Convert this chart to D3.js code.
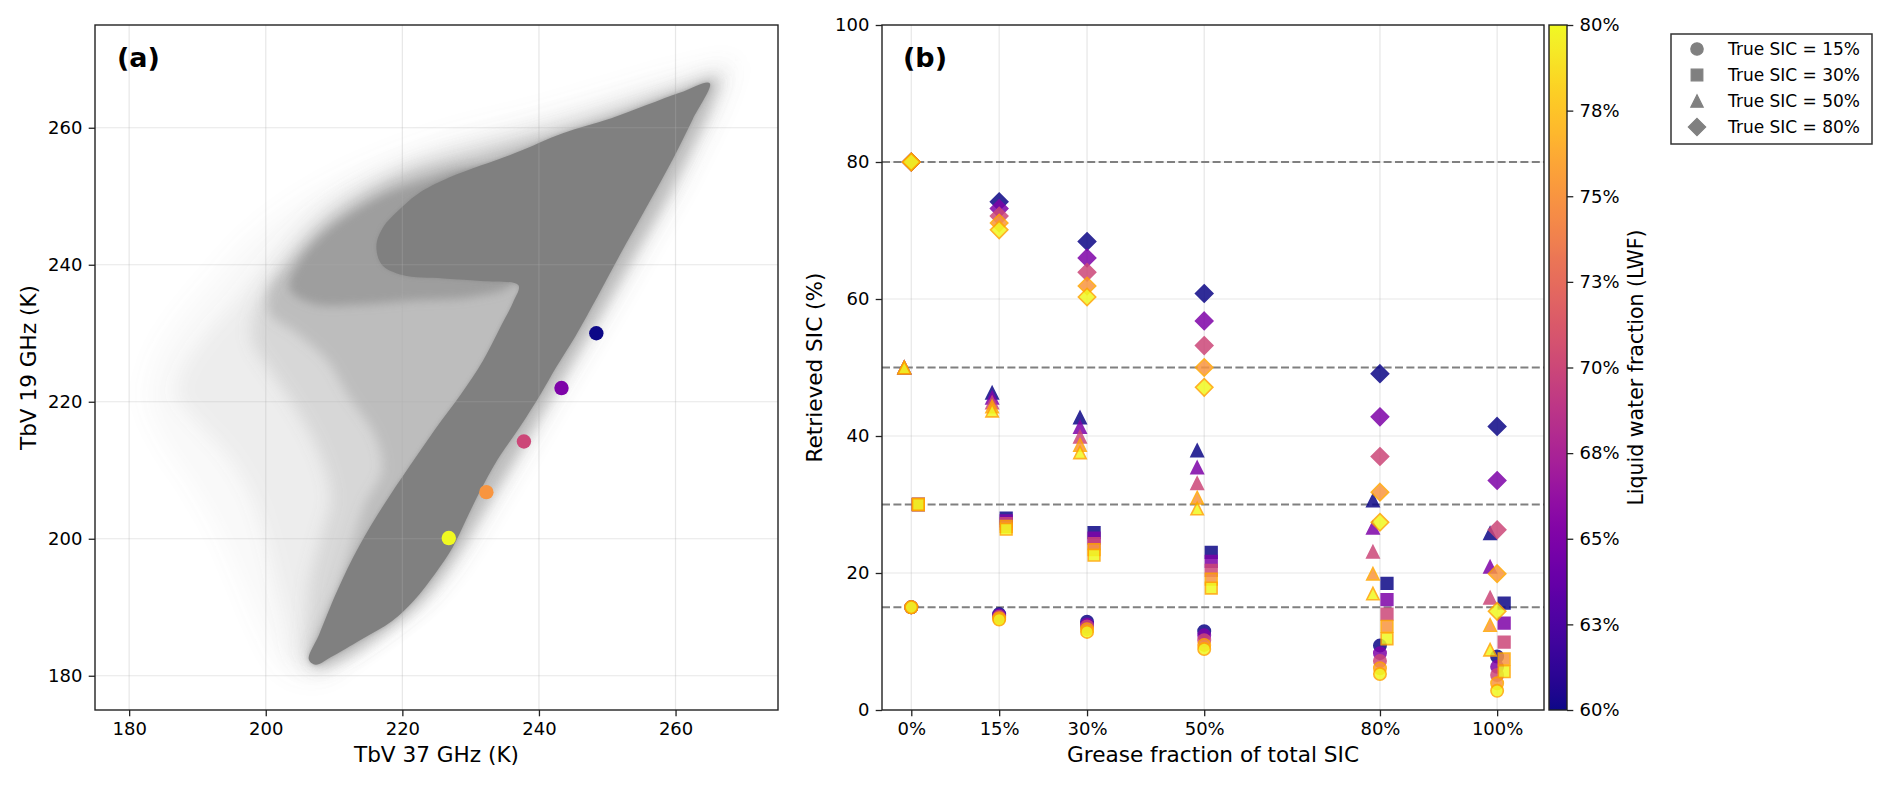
<!DOCTYPE html>
<html><head><meta charset="utf-8">
<script src="https://cdn.jsdelivr.net/npm/d3@7"></script>
<style>
body{margin:0;background:#fff}
svg{display:block}
text{font-family:"DejaVu Sans",sans-serif;fill:#000}
</style></head>
<body><svg id="c" width="1892" height="785"></svg>
<script>
// ---------------- DATA ----------------
// Panel (a): axis ticks
const aTicks = [180, 200, 220, 240, 260];
const cloudLevel0 = [[268.5,269.5],[267.5,264.5],[264.5,258],[261,251],[257,244],[253.3,237.5],[249.8,231.5],[246.5,226],[243.5,221],[240.3,215.5],[237,210],[234,205],[231.3,200.5],[228.3,196],[224.5,191.5],[219.5,187.5],[213.5,183],[208,179.5],[203,180.5],[199.5,186],[196.5,193],[193,201],[189,208],[185,214],[182.5,220],[183.5,226],[187,232],[192,238],[197.5,244],[204,249],[211,253],[219,256.5],[228,259.5],[240,262.5],[252,266],[261,268.5]];
const cloudLevel1 = [[267.5,268.5],[266.5,264],[263.5,257.5],[260,250.5],[256,243.5],[252.3,237],[248.8,231],[245.5,225.5],[242.5,220.5],[239.3,215],[236,209.5],[233,204.5],[230.3,200],[227.3,195.5],[223.5,191],[218.5,187],[212.5,183],[207.5,180.3],[204.5,182],[203,188],[201.5,194],[200,200],[198,206],[194.5,212],[190,217],[187,221],[188,225],[191,229.5],[195,234],[199,239],[203,243.5],[207,247.5],[212,251],[218,254],[226,257],[237,260],[250,263.8],[259,266.5]];
const cloudLevel2 = [[266.5,267.5],[265.5,263.5],[262.5,257],[259,250],[255,243],[251.3,236.5],[247.8,230.5],[244.5,225],[241.5,220],[238.3,214.5],[235,209],[232,204],[229.3,199.5],[226.3,195],[222.5,190.5],[217.5,186.5],[212,182.8],[207.5,181],[205.8,183],[206,188],[206.5,194],[208,200],[209.5,206],[208,212],[205,218],[201,224],[198,229],[198.5,233.5],[201.5,238.5],[205,243.5],[209.5,248],[215,251.5],[221,254.5],[230,257],[241,259.8],[251,262.8],[260,265.8]];
const cloudLevel3 = [[266,267],[265,263],[262,256.5],[258.5,249.5],[254.5,242.5],[250.8,236],[247.3,230],[244,224.5],[241,219.5],[237.8,214],[234.5,208.5],[231.5,203.5],[228.8,199],[225.8,194.5],[222,190],[217,186],[211.5,182.5],[207.5,181.3],[206.5,183],[208,187.5],[210.5,193],[212.5,199],[214.5,205],[217,210],[216,215],[212,221],[209,226],[204.5,230],[200.5,233],[200.5,236.5],[203.5,240.5],[207.5,245],[212,248.5],[217,251.5],[223,253.8],[232,256],[242,259],[251,262],[260,265.3]];
const cloudLevel4 = [[203.5,236.5],[205,240.5],[208.5,244.5],[213,247.8],[218,250.5],[224,252.5],[230,254],[236,253],[238,248],[238,241],[236,237],[230,235.3],[222,234.8],[214,234.2],[207,234.3]];
const cloudCore = [[265,266.5],[262.5,261.2],[259.6,255.4],[255.8,248.5],[252,241.7],[248.6,235.4],[245.3,229.5],[242.5,225],[240.3,221.2],[237.2,216.3],[233.9,211.5],[231.2,206.6],[229.3,202.7],[227.4,198.8],[224.8,194.9],[221.7,191],[218.5,188],[214,185.3],[209.5,182.7],[207.3,181.6],[206.3,182.4],[207.8,186],[210.5,192.5],[213.6,198.8],[217.2,204.8],[221,210.5],[224.8,216],[228.5,221],[231.8,226],[234.4,231],[236.2,234.5],[237,237],[232,237.6],[226,238],[220,238.5],[217,240],[216.2,242.8],[217.2,245.5],[219.3,247.8],[222.2,250.3],[227,252.8],[236.5,256.3],[243.5,259.2],[250.6,261.4],[260.6,265.1]];
// Panel (a): simulated points per LWF
const lwfValues = [60, 65, 70, 75, 80];
const simTb37 = [248.4, 243.3, 237.8, 232.3, 226.8];
const simTb19 = [230.0, 222.0, 214.2, 206.8, 200.1];

// Panel (b)
const greaseFractions = [0, 15, 30, 50, 80, 100];
const greaseLabels = ["0%", "15%", "30%", "50%", "80%", "100%"];
const bYTicks = [0, 20, 40, 60, 80, 100];
const trueSICValues = [15, 30, 50, 80];
// retrieved SIC: rows = grease fraction, columns = LWF 60,65,70,75,80
const retrievedSIC15 = [[15,15,15,15,15],[14.0,13.8,13.6,13.4,13.2],[12.9,12.5,12.2,11.8,11.4],[11.5,10.9,10.2,9.5,8.9],[9.4,8.3,7.15,6.1,5.25],[7.8,6.3,5.1,3.9,2.8]];
const retrievedSIC30 = [[30,30,30,30,30],[28.0,27.6,27.2,26.8,26.4],[25.9,25.1,24.3,23.4,22.6],[23.0,21.7,20.4,19.1,17.8],[18.5,16.1,14.0,12.2,10.4],[15.6,12.7,9.9,7.45,5.6]];
const retrievedSIC50 = [[50,50,50,50,50],[46.3,45.6,44.9,44.3,43.7],[42.7,41.3,39.9,38.7,37.6],[37.9,35.4,33.1,31.0,29.4],[30.6,26.6,23.1,19.9,17.0],[25.8,20.9,16.4,12.4,8.8]];
const retrievedSIC80 = [[80,80,80,80,80],[74.2,73.2,72.1,71.1,70.1],[68.4,66.0,63.9,61.9,60.3],[60.8,56.8,53.2,50.0,47.1],[49.1,42.8,37.0,31.8,27.4],[41.4,33.5,26.3,19.9,14.4]];
const markerShift = [0, 1.2, -1.2, 0]; // x offset (percentage points) per true SIC series
const markerKind = ["circle", "square", "triangle", "diamond"];
const cbTicks = [60, 62.5, 65, 67.5, 70, 72.5, 75, 77.5, 80];
const cbTickLabels = ["60%", "63%", "65%", "68%", "70%", "73%", "75%", "78%", "80%"];
const legendLabels = ["True SIC = 15%", "True SIC = 30%", "True SIC = 50%", "True SIC = 80%"];

// ---------------- DRAWING ----------------
const svg = d3.select('#c');
const defs = svg.append('defs');
const gridCol = '#b0b0b0', gridOp = 0.3, spineCol = '#222', spineW = 1.4;
const tickLen = 6.3, tickPad = 6.3, tickFont = 18, labelFont = 21.6;

function blur(id, sd) {
  const f = defs.append('filter').attr('id', id).attr('x', '-30%').attr('y', '-30%').attr('width', '160%').attr('height', '160%');
  f.append('feGaussianBlur').attr('stdDeviation', sd);
}
blur('b10', 10); blur('b9', 9); blur('b8', 8); blur('b6', 6); blur('b5', 5); blur('b2', 2); blur('b07', 0.7);

const cmap = d3.scaleSequential(d3.interpolatePlasma).domain([60, 80]);

// ---- Panel (a)
const A = {l: 95, r: 778, t: 25, b: 710};
const xa = d3.scaleLinear().domain([175, 275]).range([A.l, A.r]);
const ya = d3.scaleLinear().domain([175, 275]).range([A.b, A.t]);
defs.append('clipPath').attr('id', 'clipA').append('rect').attr('x', A.l).attr('y', A.t).attr('width', A.r - A.l).attr('height', A.b - A.t);
const ga = svg.append('g');
const cloudG = ga.append('g').attr('clip-path', 'url(#clipA)');
const lineA = d3.line().x(d => xa(d[0])).y(d => ya(d[1])).curve(d3.curveCatmullRomClosed.alpha(0.5));
const layers = [
  [cloudLevel0, 0.05, 'b10'],
  [cloudLevel1, 0.1, 'b9'],
  [cloudLevel2, 0.2, 'b8'],
  [cloudLevel3, 0.3, 'b6'],
  [cloudLevel4, 0.5, 'b5'],
  [cloudCore, 0.5, 'b2'],
  [cloudCore, 1.0, 'b07']
];
layers.forEach(([pts, op, f]) => {
  cloudG.append('path').attr('d', lineA(pts)).attr('fill', '#808080').attr('fill-opacity', op).attr('filter', `url(#${f})`);
});
// grid (a)
aTicks.forEach(v => {
  ga.append('line').attr('x1', xa(v)).attr('x2', xa(v)).attr('y1', A.t).attr('y2', A.b).attr('stroke', gridCol).attr('stroke-opacity', gridOp).attr('stroke-width', 1.2);
  ga.append('line').attr('y1', ya(v)).attr('y2', ya(v)).attr('x1', A.l).attr('x2', A.r).attr('stroke', gridCol).attr('stroke-opacity', gridOp).attr('stroke-width', 1.2);
});
// simulated points
ga.selectAll('circle.sim').data(lwfValues).enter().append('circle')
  .attr('cx', (d, i) => xa(simTb37[i])).attr('cy', (d, i) => ya(simTb19[i])).attr('r', 7.2).attr('fill', d => cmap(d));
// axes (a)
function styleAxis(g) {
  g.selectAll('.domain').remove();
  g.selectAll('.tick line').attr('stroke', spineCol).attr('stroke-width', 1.3);
  g.selectAll('.tick text').attr('font-size', tickFont).attr('font-family', '"DejaVu Sans",sans-serif').attr('fill', '#000');
}
ga.append('g').attr('transform', `translate(0,${A.b})`).call(d3.axisBottom(xa).tickValues(aTicks).tickSize(tickLen).tickPadding(tickPad)).call(styleAxis);
ga.append('g').attr('transform', `translate(${A.l},0)`).call(d3.axisLeft(ya).tickValues(aTicks).tickSize(tickLen).tickPadding(tickPad)).call(styleAxis);
ga.append('rect').attr('x', A.l).attr('y', A.t).attr('width', A.r - A.l).attr('height', A.b - A.t).attr('fill', 'none').attr('stroke', spineCol).attr('stroke-width', spineW);
ga.append('text').attr('x', (A.l + A.r) / 2).attr('y', 762).attr('text-anchor', 'middle').attr('font-size', labelFont).text('TbV 37 GHz (K)');
ga.append('text').attr('transform', `translate(36,${(A.t + A.b) / 2}) rotate(-90)`).attr('text-anchor', 'middle').attr('font-size', labelFont).text('TbV 19 GHz (K)');
ga.append('text').attr('x', 117).attr('y', 67).attr('font-size', 27).attr('font-weight', 'bold').text('(a)');

// ---- Panel (b)
const B = {l: 882, r: 1544, t: 25, b: 710};
const xb = d3.scaleLinear().domain([-5, 108]).range([B.l, B.r]);
const yb = d3.scaleLinear().domain([0, 100]).range([B.b, B.t]);
const gb = svg.append('g');
greaseFractions.forEach(v => gb.append('line').attr('x1', xb(v)).attr('x2', xb(v)).attr('y1', B.t).attr('y2', B.b).attr('stroke', gridCol).attr('stroke-opacity', gridOp).attr('stroke-width', 1.2));
bYTicks.forEach(v => gb.append('line').attr('y1', yb(v)).attr('y2', yb(v)).attr('x1', B.l).attr('x2', B.r).attr('stroke', gridCol).attr('stroke-opacity', gridOp).attr('stroke-width', 1.2));
trueSICValues.forEach(v => gb.append('line').attr('y1', yb(v)).attr('y2', yb(v)).attr('x1', B.l).attr('x2', B.r).attr('stroke', '#808080').attr('stroke-width', 1.9).attr('stroke-dasharray', '8,3.4'));

function markerPath(kind, s) {
  const p = d3.path();
  if (kind === 'circle') { p.arc(0, 0, s * 0.5, 0, 2 * Math.PI); }
  else if (kind === 'square') { const h = s * 0.47; p.rect(-h, -h, 2 * h, 2 * h); }
  else if (kind === 'triangle') { const h = s * 0.5; p.moveTo(0, -h); p.lineTo(h, h); p.lineTo(-h, h); p.closePath(); }
  else { const h = s * 0.7; p.moveTo(0, -h); p.lineTo(h, 0); p.lineTo(0, h); p.lineTo(-h, 0); p.closePath(); }
  return p.toString();
}
const seriesValues = [retrievedSIC15, retrievedSIC30, retrievedSIC50, retrievedSIC80];
const pts = [];
lwfValues.forEach((lwf, li) => {
  seriesValues.forEach((ser, si) => {
    greaseFractions.forEach((gf, gi) => {
      pts.push({x: gf + markerShift[si], y: ser[gi][li], lwf: lwf, kind: markerKind[si]});
    });
  });
});
gb.selectAll('path.mk').data(pts).enter().append('path')
  .attr('d', d => markerPath(d.kind, 12.4))
  .attr('transform', d => `translate(${xb(d.x)},${yb(d.y)})`)
  .attr('fill', d => cmap(d.lwf))
  .attr('stroke', d => d.lwf >= 75 ? '#ffa500' : cmap(d.lwf))
  .attr('stroke-width', 1.6)
  .attr('stroke-linejoin', 'miter')
  .attr('opacity', 0.85);

gb.append('g').attr('transform', `translate(0,${B.b})`).call(d3.axisBottom(xb).tickValues(greaseFractions).tickFormat((d, i) => greaseLabels[i]).tickSize(tickLen).tickPadding(tickPad)).call(styleAxis);
gb.append('g').attr('transform', `translate(${B.l},0)`).call(d3.axisLeft(yb).tickValues(bYTicks).tickSize(tickLen).tickPadding(tickPad)).call(styleAxis);
gb.append('rect').attr('x', B.l).attr('y', B.t).attr('width', B.r - B.l).attr('height', B.b - B.t).attr('fill', 'none').attr('stroke', spineCol).attr('stroke-width', spineW);
gb.append('text').attr('x', (B.l + B.r) / 2).attr('y', 762).attr('text-anchor', 'middle').attr('font-size', labelFont).text('Grease fraction of total SIC');
gb.append('text').attr('transform', `translate(822,${(B.t + B.b) / 2}) rotate(-90)`).attr('text-anchor', 'middle').attr('font-size', labelFont).text('Retrieved SIC (%)');
gb.append('text').attr('x', 903).attr('y', 67).attr('font-size', 27).attr('font-weight', 'bold').text('(b)');

// ---- Colorbar
const C = {l: 1549, r: 1567, t: 25, b: 710};
const yc = d3.scaleLinear().domain([60, 80]).range([C.b, C.t]);
const grad = defs.append('linearGradient').attr('id', 'cbg').attr('x1', 0).attr('x2', 0).attr('y1', 1).attr('y2', 0);
d3.range(0, 1.0001, 0.02).forEach(t => grad.append('stop').attr('offset', t).attr('stop-color', d3.interpolatePlasma(t)));
svg.append('rect').attr('x', C.l).attr('y', C.t).attr('width', C.r - C.l).attr('height', C.b - C.t).attr('fill', 'url(#cbg)').attr('stroke', spineCol).attr('stroke-width', spineW);
svg.append('g').attr('transform', `translate(${C.r},0)`).call(d3.axisRight(yc).tickValues(cbTicks).tickFormat((d, i) => cbTickLabels[i]).tickSize(tickLen).tickPadding(tickPad)).call(styleAxis);
svg.append('text').attr('transform', `translate(1643,${(C.t + C.b) / 2}) rotate(-90)`).attr('text-anchor', 'middle').attr('font-size', 20.5).text('Liquid water fraction (LWF)');

// ---- Legend
const L = {x: 1671, y: 34, w: 201, h: 110};
const gl = svg.append('g');
gl.append('rect').attr('x', L.x).attr('y', L.y).attr('width', L.w).attr('height', L.h).attr('fill', '#fff').attr('stroke', '#333').attr('stroke-width', 1.5);
legendLabels.forEach((lab, i) => {
  const cy = 49 + i * 26;
  gl.append('path').attr('d', markerPath(markerKind[i], 12.4)).attr('transform', `translate(1697,${cy})`).attr('fill', '#808080').attr('stroke', '#808080').attr('stroke-width', 1.2);
  gl.append('text').attr('x', 1728).attr('y', cy + 6).attr('font-size', 17).text(lab);
});
</script>
</body></html>
